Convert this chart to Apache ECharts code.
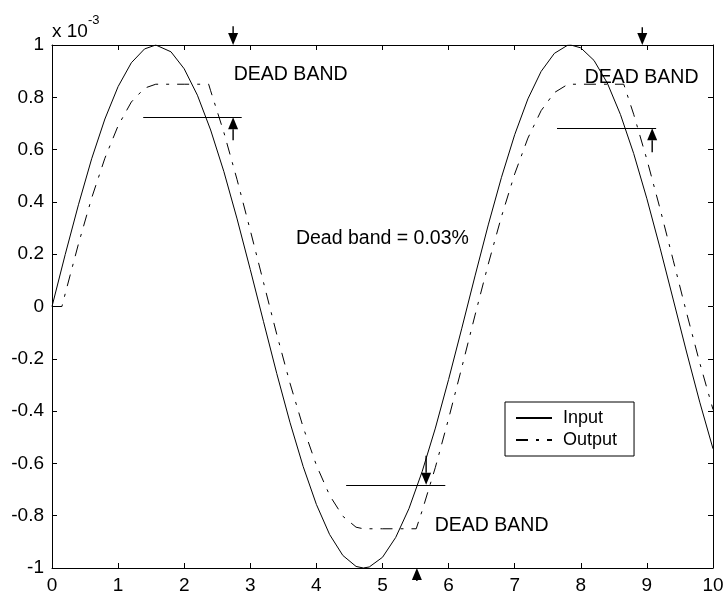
<!DOCTYPE html>
<html>
<head>
<meta charset="utf-8">
<script src="https://cdn.jsdelivr.net/npm/echarts@6/dist/echarts.min.js"></script>
<style>
  html, body { margin: 0; padding: 0; background: #fff; }
  #chart { width: 728px; height: 598px; }
</style>
</head>
<body>
<div id="chart"></div>
<script>
// Input signal samples (units of 1e-3)
const inputX = [0,0.2,0.4,0.6,0.8,1.0,1.2,1.4,1.57,1.6,1.8,2.0,2.2,2.4,2.6,2.8,3.0,3.2,3.4,3.6,3.8,4.0,4.2,4.4,4.6,4.71,4.8,5.0,5.2,5.4,5.6,5.8,6.0,6.2,6.4,6.6,6.8,7.0,7.2,7.4,7.6,7.8,7.85,8.0,8.2,8.4,8.6,8.8,9.0,9.2,9.4,9.6,9.8,10];
const inputY = [0,0.199,0.389,0.565,0.717,0.841,0.932,0.985,1.0,1.0,0.974,0.909,0.808,0.675,0.516,0.335,0.141,-0.058,-0.256,-0.443,-0.612,-0.757,-0.872,-0.952,-0.994,-1.0,-0.996,-0.959,-0.883,-0.773,-0.631,-0.465,-0.279,-0.083,0.117,0.312,0.494,0.657,0.794,0.899,0.968,0.999,1.0,0.989,0.941,0.855,0.734,0.585,0.412,0.223,0.025,-0.174,-0.366,-0.544];

// Output after the dead band element
const outputX = [0,0.15,0.2,0.4,0.6,0.8,1.0,1.2,1.4,1.57,1.8,2.0,2.2,2.37,2.4,2.6,2.8,3.0,3.2,3.4,3.6,3.8,4.0,4.2,4.4,4.6,4.71,5.0,5.2,5.4,5.51,5.6,5.8,6.0,6.2,6.4,6.6,6.8,7.0,7.2,7.4,7.6,7.8,7.85,8.2,8.4,8.65,8.8,9.0,9.2,9.4,9.6,9.8,10];
const outputY = [0,0,0.049,0.239,0.415,0.567,0.691,0.782,0.835,0.85,0.85,0.85,0.85,0.85,0.825,0.666,0.485,0.291,0.092,-0.106,-0.293,-0.462,-0.607,-0.722,-0.802,-0.844,-0.85,-0.85,-0.85,-0.85,-0.85,-0.781,-0.615,-0.429,-0.233,-0.033,0.162,0.344,0.507,0.644,0.749,0.818,0.849,0.85,0.85,0.85,0.85,0.735,0.562,0.373,0.175,-0.024,-0.216,-0.394];

// Axis ticks
const xTicks = [0,1,2,3,4,5,6,7,8,9,10];
const yTicks = [-1,-0.8,-0.6,-0.4,-0.2,0,0.2,0.4,0.6,0.8,1];

// Dead band marker lines: [xStart, xEnd, y]
const bandLines = [[1.38, 2.87, 0.724], [4.45, 5.95, -0.682], [7.64, 9.14, 0.682]];
// Arrows: [x, yTail, yTip]
const arrows = [[2.74, 1.072, 1.0], [2.74, 0.636, 0.724], [5.66, -0.571, -0.682], [5.52, -1.05, -1.0], [8.93, 1.068, 1.0], [9.08, 0.59, 0.682]];
// Text notes: [text, x, y]
const notes = [['DEAD BAND', 2.75, 0.885], ['DEAD BAND', 8.06, 0.877], ['DEAD BAND', 5.79, -0.839], ['Dead band = 0.03%', 3.69, 0.261]];

const FONT = 'Liberation Sans, Arial, sans-serif';
const zip = (xs, ys) => xs.map((x, i) => [x, ys[i]]);

const xBase = { type: 'value', min: xTicks[0], max: xTicks[xTicks.length - 1], interval: 1,
  splitLine: { show: false },
  axisLine: { show: true, onZero: false, lineStyle: { color: '#000', width: 1 } },
  axisTick: { show: true, inside: true, length: 5, lineStyle: { color: '#000' } } };
const yBase = { type: 'value', min: yTicks[0], max: yTicks[yTicks.length - 1], interval: 0.2,
  splitLine: { show: false },
  axisLine: { show: true, onZero: false, lineStyle: { color: '#000', width: 1 } },
  axisTick: { show: true, inside: true, length: 5, lineStyle: { color: '#000' } } };

const chart = echarts.init(document.getElementById('chart'), null, { renderer: 'canvas' });
chart.setOption({
  animation: false,
  backgroundColor: '#fff',
  textStyle: { fontFamily: FONT },
  grid: { left: 52, right: 15, top: 45, bottom: 30 },
  xAxis: [
    Object.assign({}, xBase, { position: 'bottom',
      axisLabel: { color: '#000', fontSize: 19, fontFamily: FONT, margin: 8 } }),
    Object.assign({}, xBase, { position: 'top', axisLabel: { show: false } })
  ],
  yAxis: [
    Object.assign({}, yBase, { position: 'left',
      axisLabel: { color: '#000', fontSize: 19, fontFamily: FONT, margin: 8 } }),
    Object.assign({}, yBase, { position: 'right', axisLabel: { show: false } })
  ],
  legend: {
    orient: 'vertical', left: 505, top: 402,
    padding: [7, 17, 7, 10], itemGap: 4, itemWidth: 36, itemHeight: 14,
    borderColor: '#000', borderWidth: 1, backgroundColor: '#fff',
    itemStyle: { opacity: 0 },
    textStyle: { color: '#000', fontSize: 18, fontFamily: FONT, padding: [0, 0, 0, 6] },
    data: ['Input', 'Output']
  },
  series: [
    {
      name: 'Input', type: 'line', showSymbol: false, symbol: 'none',
      lineStyle: { color: '#000', width: 1 }, itemStyle: { color: '#000' },
      data: zip(inputX, inputY)
    },
    {
      name: 'Output', type: 'line', showSymbol: false, symbol: 'none',
      lineStyle: { color: '#000', width: 1, type: [12, 8, 3, 8] }, itemStyle: { color: '#000' },
      data: zip(outputX, outputY)
    },
    {
      name: 'notes', type: 'line', data: [], silent: true,
      markLine: {
        silent: true, animation: false,
        symbol: ['none', 'none'],
        label: { show: false },
        lineStyle: { color: '#000', width: 1, type: 'solid' },
        data: bandLines.map(b => [{ coord: [b[0], b[2]] }, { coord: [b[1], b[2]] }])
      },
      markPoint: {
        silent: true, animation: false,
        symbol: 'circle', symbolSize: 0,
        label: { show: true, position: 'right', distance: 0, color: '#000', fontSize: 19.5, fontFamily: FONT },
        data: notes.map(n => ({ coord: [n[1], n[2]], value: n[0], label: { formatter: n[0] } }))
      }
    }
  ]
});

// Arrows run past the plot frame, so they are drawn as graphics placed through the axis scales
const HEAD_H = 12, HEAD_W = 10;
const arrowGraphics = [];
arrows.forEach(a => {
  const tail = chart.convertToPixel({ gridIndex: 0 }, [a[0], a[1]]);
  const tip = chart.convertToPixel({ gridIndex: 0 }, [a[0], a[2]]);
  const dir = tip[1] > tail[1] ? 1 : -1; // +1 when pointing down
  const baseY = tip[1] - dir * HEAD_H;
  arrowGraphics.push({
    type: 'line', silent: true, z: 10,
    shape: { x1: tail[0], y1: tail[1], x2: tip[0], y2: baseY },
    style: { stroke: '#000', lineWidth: 1.4 }
  });
  arrowGraphics.push({
    type: 'polygon', silent: true, z: 10,
    shape: { points: [[tip[0], tip[1]], [tip[0] - HEAD_W / 2, baseY], [tip[0] + HEAD_W / 2, baseY]] },
    style: { fill: '#000' }
  });
});

chart.setOption({
  graphic: [{
    type: 'text', left: 52, top: 14, silent: true,
    style: {
      text: '{a|x 10}{b|-3}',
      rich: {
        a: { fontSize: 19, fontFamily: FONT, fill: '#000', padding: [8, 0, 0, 0] },
        b: { fontSize: 13, fontFamily: FONT, fill: '#000', verticalAlign: 'top' }
      }
    }
  }].concat(arrowGraphics)
});
</script>
</body>
</html>
